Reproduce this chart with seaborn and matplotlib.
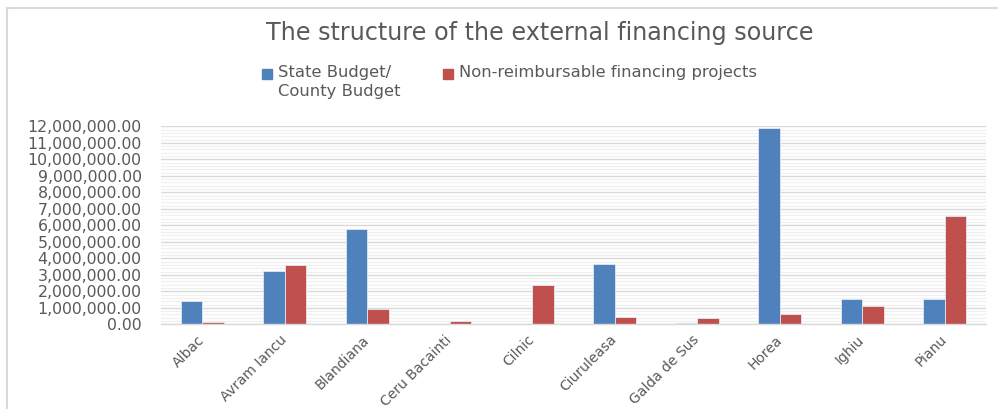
import matplotlib
matplotlib.use("Agg")
import matplotlib.pyplot as plt
import matplotlib.ticker as mticker
import matplotlib.transforms as mtransforms
from matplotlib.lines import Line2D
from matplotlib.patches import Rectangle
import seaborn as sns
import pandas as pd

categories = ["Albac", "Avram Iancu", "Blandiana", "Ceru Bacainti", "Cilnic",
              "Ciuruleasa", "Galda de Sus", "Horea", "Ighiu", "Pianu"]
state_budget = [1390000, 3210000, 5800000, 0, 0, 3670000, 80000, 11920000, 1550000, 1510000]
non_reimb = [120000, 3580000, 950000, 180000, 2380000, 420000, 380000, 620000, 1110000, 6550000]
series_names = ["State Budget/\nCounty Budget", "Non-reimbursable financing projects"]
yticks = list(range(0, 13000000, 1000000))

df = pd.DataFrame({
    "category": categories * 2,
    "value": state_budget + non_reimb,
    "series": [series_names[0]] * len(categories) + [series_names[1]] * len(categories),
})

sns.set_theme(style="white")
plt.rcParams['font.family'] = ['DejaVu Sans']

W, H = 998, 409
fig = plt.figure(figsize=(W / 100, H / 100), dpi=100)
ax = fig.add_axes([161 / W, 1 - 324.3 / H, (986 - 161) / W, (324.3 - 126.3) / H])

palette = ["#4F81BD", "#C0504D"]
sns.barplot(data=df, x="category", y="value", hue="series", palette=palette,
            width=0.52, ax=ax, legend=False, edgecolor="#e3e9f2", linewidth=0.6,
            saturation=1)

ax.set_ylim(0, 12000000)
ax.set_yticks(yticks)
ax.yaxis.set_major_formatter(mticker.FuncFormatter(lambda v, p: f"{v:,.2f}"))
ax.yaxis.set_minor_locator(mticker.MultipleLocator(200000))
ax.grid(axis="y", which="major", color="#d9d9d9", linewidth=1.0)
ax.grid(axis="y", which="minor", color="#f0f0f0", linewidth=0.9)
ax.set_axisbelow(True)
for s in ["top", "right", "left"]:
    ax.spines[s].set_visible(False)
ax.spines["bottom"].set_color("#d9d9d9")
ax.spines["bottom"].set_linewidth(1.0)
ax.set_xlabel("")
ax.set_ylabel("")
ax.tick_params(axis="y", which="both", labelsize=11.3, labelcolor="#595959", length=0, pad=14)
ax.tick_params(axis="x", labelsize=10, labelcolor="#595959", length=0, pad=6)
offset = mtransforms.ScaledTranslation(-5 / 100, 0, fig.dpi_scale_trans)
for lbl in ax.get_xticklabels():
    lbl.set_rotation(45)
    lbl.set_ha("right")
    lbl.set_rotation_mode("anchor")
    lbl.set_transform(lbl.get_transform() + offset)

fig.text(540 / W, 1 - 33 / H, "The structure of the external financing source",
         ha="center", va="center", fontsize=17.2, color="#595959")

# legend (manual, to mimic the two-line first entry)
sq = 10
leg_items = [(262, 278, palette[0], series_names[0]), (443, 459, palette[1], series_names[1])]
for sx, tx, col, name in leg_items:
    fig.add_artist(Rectangle((sx / W, 1 - 79 / H), sq / W, sq / H,
                             transform=fig.transFigure, color=col))
    fig.text(tx / W, 1 - 65 / H, name, ha="left", va="top", fontsize=11.8,
             color="#595959", linespacing=1.3)

# outer frame (left and top edges visible)
fig.add_artist(Line2D([6.5 / W, 6.5 / W], [0, 1 - 7.5 / H], transform=fig.transFigure,
                      color="#d9d9d9", linewidth=1.5))
fig.add_artist(Line2D([6.5 / W, 1], [1 - 7.5 / H, 1 - 7.5 / H], transform=fig.transFigure,
                      color="#d9d9d9", linewidth=1.5))

fig.savefig("out.png", dpi=100)
